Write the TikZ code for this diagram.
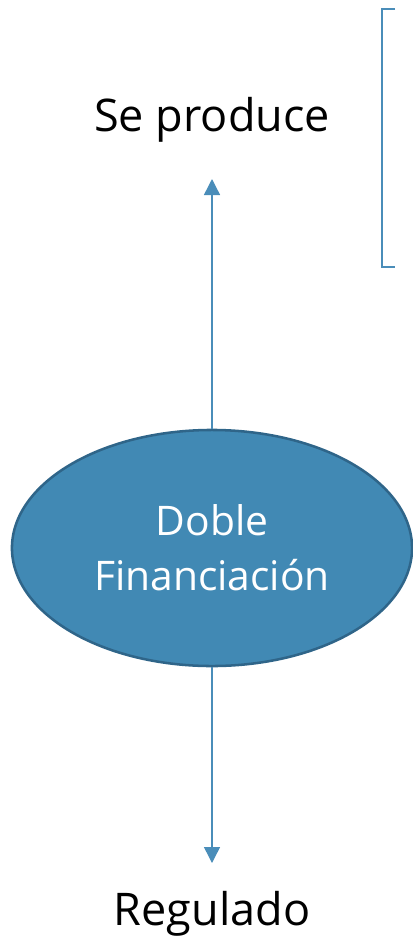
\documentclass[tikz,border=0pt]{standalone}
\usepackage{fontspec}
\setmainfont{Open Sans}
\usetikzlibrary{shapes.geometric,arrows.meta}
\definecolor{azulfin}{HTML}{4189B4}
\definecolor{azulborde}{HTML}{2F6589}
\definecolor{azulflecha}{HTML}{4A8DB9}
\tikzset{
  elipse/.style={ellipse, fill=azulfin, draw=azulborde, line width=1.8pt,
    minimum width=10cm, minimum height=5.9cm, inner sep=0pt,
    text=white, align=center, font=\fontsize{29}{39}\selectfont},
  etiqueta/.style={text=black, font=\fontsize{32}{36}\selectfont},
  flecha/.style={azulflecha, line width=1pt, -{Triangle[width=0.4cm,length=0.4cm]}}
}
\begin{document}
\begin{tikzpicture}[x=0.025cm,y=-0.025cm]

    % marco de la figura
    \useasboundingbox (0,0) rectangle (413,942);

    % elipse central
    \node[elipse] (dobfin) at (212,548) {Doble\\Financiación};

    % etiquetas
    \node[etiqueta] (seprod) at (212,120) {Se produce};
    \node[etiqueta] (regul) at (212,914) {Regulado};

    % puntas de las flechas
    \coordinate (arriba) at (212,179);
    \coordinate (abajo) at (212,863);

    % flechas
    \draw[flecha] (dobfin.north) -- (arriba);
    \draw[flecha] (dobfin.south) -- (abajo);

    % corchete
    \draw[azulflecha, line width=1.8pt] (395,9) -- (382,9) -- (382,267) -- (395,267);

\end{tikzpicture}
\end{document}
